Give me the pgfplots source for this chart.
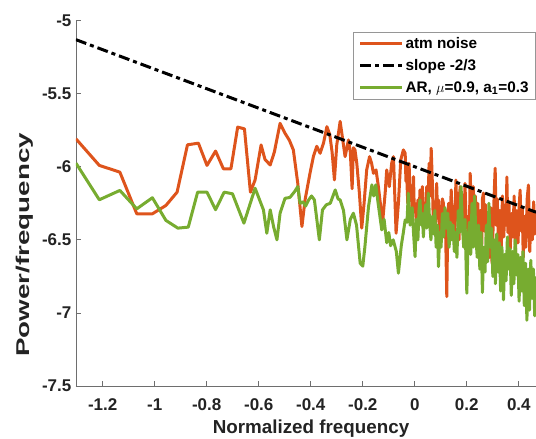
\documentclass[border=0pt]{standalone}
\usepackage{fontspec}
\setmainfont{Liberation Sans}
\usepackage{graphicx}
\usepackage{pgfplots}
\pgfplotsset{compat=1.18}
\definecolor{atm}{RGB}{222,84,28}
\definecolor{arg}{RGB}{119,172,48}
\definecolor{axgray}{RGB}{110,110,110}
\definecolor{txt}{RGB}{35,35,35}
\begin{document}
\begin{tikzpicture}
\begin{axis}[
  scale only axis, width=460pt, height=365.5pt,
  xmin=-1.303, xmax=0.466, ymin=-7.5, ymax=-5,
  axis x line*=bottom, axis y line*=left,
  axis line style={axgray, line width=0.8pt},
  tick style={axgray, line width=0.8pt},
  tick align=inside, major tick length=5pt,
  xtick={-1.2,-1,-0.8,-0.6,-0.4,-0.2,0,0.2,0.4},
  ytick={-7.5,-7,-6.5,-6,-5.5,-5},
  /pgf/number format/assume math mode=true,
  ticklabel style={font=\fontsize{17}{17}\selectfont\bfseries, text=txt},
  yticklabel style={xshift=-1pt},
  xticklabel style={yshift=-9pt},
  xlabel={Normalized frequency},
  xlabel style={font=\fontsize{18.8}{19}\selectfont\bfseries, text=txt, at={(axis description cs:0.511,-0.117)}, anchor=center},
  ylabel={\scalebox{1.5}[1]{Power/frequency}},
  ylabel style={font=\fontsize{18.5}{19}\selectfont\bfseries, text=txt, at={(axis description cs:-0.111,0.386)}, anchor=center},
  legend style={at={(1,0.968)}, anchor=north east, draw={rgb,255:red,150;green,150;blue,150}, line width=0.8pt,
    font=\fontsize{15.3}{15.3}\selectfont\bfseries, inner xsep=5pt, inner ysep=3pt, row sep=5.5pt, cells={anchor=west}},
  legend image code/.code={\draw[#1] (0pt,0pt) -- (42pt,0pt);},
]
\addplot[atm, line width=3pt, line join=round] coordinates {
(-1.303,-5.809) (-1.213,-5.991) (-1.134,-6.037) (-1.069,-6.322) (-1.009,-6.322) (-0.957,-6.265)
(-0.914,-6.174) (-0.874,-5.850) (-0.832,-5.839) (-0.799,-5.991) (-0.766,-5.893) (-0.736,-6.014)
(-0.707,-6.014) (-0.681,-5.729) (-0.655,-5.741) (-0.632,-6.174) (-0.614,-6.09) (-0.591,-5.851)
(-0.576,-5.95) (-0.556,-5.988) (-0.540,-5.90) (-0.518,-5.703) (-0.499,-5.771) (-0.482,-5.82)
(-0.467,-5.885) (-0.450,-6.113) (-0.434,-6.409) (-0.422,-6.227) (-0.403,-6.045) (-0.390,-5.931)
(-0.377,-5.86) (-0.364,-5.908) (-0.351,-5.839) (-0.338,-5.726) (-0.327,-5.78) (-0.318,-5.90)
(-0.309,-6.09) (-0.300,-5.85) (-0.287,-5.69) (-0.277,-5.817) (-0.268,-5.931) (-0.255,-5.817)
(-0.248,-5.90) (-0.241,-6.15) (-0.236,-5.87) (-0.230,-5.885) (-0.223,-5.977) (-0.213,-6.181)
(-0.204,-6.42) (-0.195,-6.25) (-0.185,-6.022) (-0.174,-5.931) (-0.166,-5.977) (-0.159,-6.045)
(-0.149,-6.022) (-0.140,-6.136) (-0.131,-6.273) (-0.123,-6.364) (-0.114,-6.181) (-0.108,-6.022)
(-0.098,-6.136) (-0.089,-5.977) (-0.082,-5.931) (-0.072,-6.455) (-0.063,-6.25) (-0.054,-5.954)
(-0.044,-5.885) (-0.037,-5.908) (-0.034,-6.10) (-0.031,-6.068) (-0.027,-6.25) (-0.022,-5.977)
(-0.018,-6.20) (-0.014,-6.136) (-0.010,-6.32) (-0.005,-6.068) (-0.002,-6.30) (0.001,-6.25)
(0.006,-6.38) (0.012,-6.227) (0.016,-6.36) (0.020,-6.159) (0.025,-6.33) (0.029,-6.136)
(0.033,-6.40) (0.037,-6.25) (0.041,-6.32) (0.046,-6.136) (0.050,-6.30) (0.055,-5.977)
(0.059,-6.20) (0.063,-5.874) (0.068,-6.136) (0.071,-6.38) (0.075,-6.273) (0.080,-6.42)
(0.084,-6.114) (0.088,-6.35) (0.091,-6.227) (0.096,-6.45) (0.101,-6.364) (0.106,-6.22)
(0.110,-6.25) (0.114,-6.44) (0.117,-6.295) (0.123,-6.888) (0.127,-6.35) (0.130,-6.25)
(0.135,-6.42) (0.140,-6.159) (0.145,-6.38) (0.149,-6.273) (0.154,-6.46) (0.158,-6.091)
(0.162,-6.36) (0.165,-6.181) (0.170,-6.50) (0.174,-6.136) (0.179,-6.40) (0.183,-6.273)
(0.188,-6.48) (0.193,-6.114) (0.198,-6.42) (0.204,-6.341) (0.209,-6.55) (0.213,-6.045)
(0.219,-6.40) (0.225,-6.136) (0.229,-6.40) (0.233,-6.20) (0.237,-6.52) (0.242,-6.25)
(0.247,-6.46) (0.252,-6.30) (0.257,-6.58) (0.260,-6.22) (0.264,-6.18) (0.268,-6.44)
(0.272,-6.26) (0.277,-6.55) (0.282,-6.32) (0.287,-6.62) (0.292,-6.28) (0.297,-6.66)
(0.302,-6.36) (0.306,-6.15) (0.309,-6.01) (0.313,-6.40) (0.317,-6.22) (0.322,-6.52)
(0.327,-6.30) (0.332,-6.60) (0.337,-6.20) (0.342,-6.48) (0.347,-6.26) (0.351,-6.40)
(0.354,-6.07) (0.358,-6.45) (0.362,-6.24) (0.367,-6.56) (0.372,-6.32) (0.377,-6.48)
(0.382,-6.20) (0.387,-6.60) (0.392,-6.30) (0.397,-6.52) (0.401,-6.28) (0.405,-6.16)
(0.409,-6.44) (0.413,-6.28) (0.417,-6.62) (0.422,-6.34) (0.427,-6.55) (0.432,-6.22)
(0.437,-6.125) (0.442,-6.58) (0.447,-6.30) (0.452,-6.50) (0.457,-6.24) (0.462,-6.46)
(0.466,-6.30)
};
\addlegendentry{atm noise}
\addplot[black, line width=3pt, dash pattern=on 11pt off 4pt on 4pt off 4pt] coordinates {(-1.303,-5.131) (0.466,-6.311)};
\addlegendentry{slope -2/3}
\addplot[arg, line width=3pt, line join=round] coordinates {
(-1.303,-5.975) (-1.213,-6.226) (-1.134,-6.162) (-1.069,-6.288) (-1.009,-6.212) (-0.957,-6.367)
(-0.911,-6.420) (-0.871,-6.413) (-0.835,-6.174) (-0.799,-6.174) (-0.766,-6.294) (-0.733,-6.174)
(-0.701,-6.185) (-0.657,-6.386) (-0.614,-6.147) (-0.582,-6.295) (-0.569,-6.455) (-0.556,-6.295)
(-0.543,-6.41) (-0.530,-6.50) (-0.518,-6.318) (-0.499,-6.216) (-0.480,-6.21) (-0.462,-6.17)
(-0.450,-6.136) (-0.441,-6.25) (-0.430,-6.24) (-0.420,-6.27) (-0.408,-6.227) (-0.397,-6.20)
(-0.386,-6.227) (-0.367,-6.50) (-0.355,-6.295) (-0.340,-6.26) (-0.325,-6.25) (-0.306,-6.159)
(-0.295,-6.22) (-0.287,-6.227) (-0.274,-6.30) (-0.261,-6.50) (-0.248,-6.36) (-0.236,-6.318)
(-0.224,-6.40) (-0.210,-6.66) (-0.200,-6.68) (-0.192,-6.55) (-0.178,-6.273) (-0.165,-6.124)
(-0.158,-6.20) (-0.150,-6.124) (-0.141,-6.25) (-0.127,-6.432) (-0.118,-6.36) (-0.108,-6.52)
(-0.100,-6.45) (-0.093,-6.54) (-0.083,-6.50) (-0.071,-6.58) (-0.063,-6.728) (-0.052,-6.54)
(-0.044,-6.45) (-0.037,-6.364) (-0.030,-6.38) (-0.025,-6.181) (-0.018,-6.40) (-0.010,-6.28)
(-0.005,-6.45) (0.001,-6.615) (0.006,-6.36) (0.012,-6.50) (0.016,-6.30) (0.020,-6.227)
(0.025,-6.40) (0.029,-6.32) (0.033,-6.48) (0.037,-6.35) (0.042,-6.26) (0.046,-6.42)
(0.052,-6.181) (0.057,-6.38) (0.062,-6.50) (0.067,-6.34) (0.072,-6.46) (0.077,-6.30)
(0.082,-6.55) (0.087,-6.40) (0.091,-6.683) (0.096,-6.45) (0.101,-6.55) (0.106,-6.32)
(0.111,-6.48) (0.116,-6.28) (0.121,-6.42) (0.127,-6.318) (0.132,-6.55) (0.137,-6.38)
(0.142,-6.50) (0.147,-6.40) (0.152,-6.58) (0.157,-6.45) (0.162,-6.62) (0.167,-6.30)
(0.172,-6.45) (0.178,-6.136) (0.183,-6.40) (0.188,-6.55) (0.193,-6.36) (0.200,-6.865)
(0.205,-6.50) (0.210,-6.38) (0.215,-6.60) (0.220,-6.25) (0.225,-6.55) (0.230,-6.20)
(0.235,-6.48) (0.240,-6.62) (0.245,-6.40) (0.250,-6.70) (0.255,-6.45) (0.260,-6.86)
(0.265,-6.55) (0.270,-6.72) (0.275,-6.40) (0.280,-6.65) (0.285,-6.25) (0.290,-6.55)
(0.295,-6.42) (0.300,-6.75) (0.305,-6.50) (0.310,-6.80) (0.315,-6.46) (0.320,-6.72)
(0.325,-6.52) (0.330,-6.85) (0.335,-6.55) (0.341,-6.91) (0.346,-6.60) (0.351,-6.78)
(0.356,-6.48) (0.361,-6.70) (0.366,-6.56) (0.371,-6.88) (0.376,-6.58) (0.381,-6.80)
(0.386,-6.50) (0.391,-6.74) (0.396,-6.60) (0.401,-6.92) (0.406,-6.62) (0.411,-6.85)
(0.416,-6.58) (0.421,-6.95) (0.426,-6.66) (0.431,-7.05) (0.436,-6.70) (0.441,-6.98)
(0.446,-6.64) (0.451,-6.90) (0.456,-6.70) (0.461,-7.02) (0.466,-6.75)
};
\addlegendentry{AR, $\mu$=0.9, a\textsubscript{1}=0.3}
\end{axis}
\pgfresetboundingbox
\path[use as bounding box] (-75.9pt,-52pt) rectangle (460pt,386pt);
\end{tikzpicture}
\end{document}
